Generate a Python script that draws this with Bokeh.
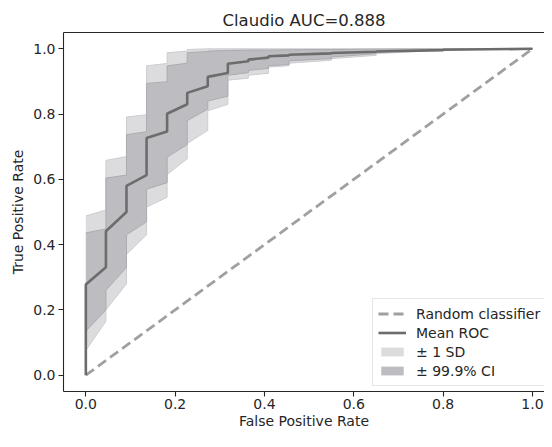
from bokeh.plotting import figure
from bokeh.models import (Range1d, FixedTicker, LinearAxis, Legend, LegendItem)
from bokeh.embed import file_html
from bokeh.resources import INLINE

# ---------------- data ----------------
title_text = "Claudio AUC=0.888"
x_label = "False Positive Rate"
y_label = "True Positive Rate"
tick_values = [0.0, 0.2, 0.4, 0.6, 0.8, 1.0]
tick_labels = ["0.0", "0.2", "0.4", "0.6", "0.8", "1.0"]

# FPR intervals (start / end of each step segment)
interval_start = [0.0, 0.045, 0.091, 0.136, 0.182, 0.227, 0.273, 0.318, 0.364, 0.409, 0.455, 0.55, 0.65, 0.80]
interval_end   = [0.045, 0.091, 0.136, 0.182, 0.227, 0.273, 0.318, 0.364, 0.409, 0.455, 0.55, 0.65, 0.80, 1.0]

# mean ROC (TPR at start / end of each interval)
mean_origin_x = 0.0
mean_origin_y = 0.0
mean_start = [0.278, 0.441, 0.580, 0.727, 0.801, 0.865, 0.914, 0.954, 0.967, 0.977, 0.982, 0.987, 0.992, 0.997]
mean_end   = [0.331, 0.500, 0.613, 0.747, 0.830, 0.885, 0.926, 0.962, 0.973, 0.980, 0.986, 0.991, 0.996, 1.000]

# +- 1 SD band
sd_up_start = [0.488, 0.658, 0.791, 0.948, 0.988, 0.998, 1.0, 1.0, 1.0, 1.0, 1.0, 1.0, 1.0, 1.0]
sd_up_end   = [0.506, 0.670, 0.798, 0.955, 0.993, 1.000, 1.0, 1.0, 1.0, 1.0, 1.0, 1.0, 1.0, 1.0]
sd_lo_start = [0.076, 0.200, 0.370, 0.515, 0.615, 0.710, 0.810, 0.904, 0.919, 0.944, 0.956, 0.970, 0.985, 0.998]
sd_lo_end   = [0.165, 0.280, 0.430, 0.545, 0.663, 0.750, 0.830, 0.910, 0.925, 0.948, 0.965, 0.980, 0.996, 1.000]

# +- 99.9% CI band
ci_up_start = [0.436, 0.604, 0.737, 0.894, 0.948, 0.988, 0.993, 0.995, 0.996, 0.996, 0.997, 0.998, 0.999, 1.0]
ci_up_end   = [0.448, 0.613, 0.746, 0.899, 0.956, 0.992, 0.995, 0.996, 0.996, 0.997, 0.998, 0.999, 1.000, 1.0]
ci_lo_start = [0.135, 0.260, 0.430, 0.570, 0.668, 0.780, 0.840, 0.919, 0.934, 0.948, 0.963, 0.975, 0.990, 0.999]
ci_lo_end   = [0.200, 0.330, 0.470, 0.590, 0.707, 0.815, 0.855, 0.927, 0.940, 0.952, 0.970, 0.985, 0.998, 1.000]

random_x = [0.0, 1.0]
random_y = [0.0, 1.0]

legend_labels = ["Random classifier", "Mean ROC", "\u00b1 1 SD", "\u00b1 99.9% CI"]


def build(starts, ends):
    xs, ys = [], []
    for a, b, v0, v1 in zip(interval_start, interval_end, starts, ends):
        xs += [a, b]
        ys += [v0, v1]
    return xs, ys


band_x, sd_up = build(sd_up_start, sd_up_end)
_, sd_lo = build(sd_lo_start, sd_lo_end)
_, ci_up = build(ci_up_start, ci_up_end)
_, ci_lo = build(ci_lo_start, ci_lo_end)
mx, my = build(mean_start, mean_end)
mean_x = [mean_origin_x] + mx
mean_y = [mean_origin_y] + my

# ---------------- styling ----------------
FONT = "DejaVu Sans"
TXT = "#262626"
SD_FILL = "#dcdcdf"
SD_EDGE = "#cdcdd1"
CI_FILL = "#bdbdc1"
CI_EDGE = "#ababb0"

p = figure(width=544, height=431,
           x_range=Range1d(-0.05, 1.027), y_range=Range1d(-0.05, 1.05),
           output_backend="svg", toolbar_location=None, title=title_text,
           min_border_left=63, min_border_right=0, min_border_top=32,
           min_border_bottom=0)
p.outline_line_color = None
p.grid.visible = False
p.background_fill_color = "white"
p.border_fill_color = "white"

p.title.text_font = FONT
p.title.text_font_size = "16.5px"
p.title.text_font_style = "normal"
p.title.text_color = TXT
p.title.align = "center"
p.title.standoff = 6

for ax in (p.xaxis[0], p.yaxis[0]):
    ax.ticker = FixedTicker(ticks=tick_values)
    ax.major_label_overrides = {v: l for v, l in zip(tick_values, tick_labels)}
    ax.axis_line_color = TXT
    ax.axis_line_width = 1.1
    ax.major_tick_line_color = TXT
    ax.major_tick_line_width = 1.1
    ax.major_tick_out = 5
    ax.major_tick_in = 0
    ax.minor_tick_line_color = None
    ax.major_label_text_font = FONT
    ax.major_label_text_font_size = "14px"
    ax.major_label_text_color = TXT
    ax.major_label_standoff = 3
    ax.axis_label_text_font = FONT
    ax.axis_label_text_font_size = "14px"
    ax.axis_label_text_font_style = "normal"
    ax.axis_label_text_color = TXT
    ax.axis_label_standoff = 4

p.xaxis[0].major_label_standoff = 2
p.xaxis[0].axis_label_standoff = 1

p.xaxis.axis_label = x_label
p.yaxis.axis_label = y_label

top = LinearAxis(ticker=FixedTicker(ticks=[]), axis_line_color=TXT,
                 axis_line_width=1.1, major_tick_out=0, major_tick_in=0,
                 minor_tick_out=0, minor_tick_in=0,
                 major_label_text_font_size="0px")
p.add_layout(top, "above")

# bands
sd_band = p.varea(x=band_x, y1=sd_lo, y2=sd_up, fill_color=SD_FILL)
p.line(band_x, sd_up, line_color=SD_EDGE, line_width=1)
p.line(band_x, sd_lo, line_color=SD_EDGE, line_width=1)
ci_band = p.varea(x=band_x, y1=ci_lo, y2=ci_up, fill_color=CI_FILL)
p.line(band_x, ci_up, line_color=CI_EDGE, line_width=1)
p.line(band_x, ci_lo, line_color=CI_EDGE, line_width=1)

rand_line = p.line(random_x, random_y, line_color="#a0a0a0", line_width=2.8,
                   line_dash="10 5")
mean_line = p.line(mean_x, mean_y, line_color="#6c6c6c", line_width=2.6)

legend = Legend(items=[
    LegendItem(label=legend_labels[0], renderers=[rand_line]),
    LegendItem(label=legend_labels[1], renderers=[mean_line]),
    LegendItem(label=legend_labels[2], renderers=[sd_band]),
    LegendItem(label=legend_labels[3], renderers=[ci_band]),
], location=(309, 5))
legend.label_text_font = FONT
legend.label_text_font_size = "14px"
legend.label_text_color = TXT
legend.glyph_width = 28
legend.glyph_height = 11
legend.label_height = 19
legend.label_standoff = 10
legend.spacing = 0
legend.padding = 5
legend.margin = 0
legend.border_line_color = "#cccccc"
legend.border_line_width = 1
legend.background_fill_alpha = 0.8
p.add_layout(legend)

open("out.html", "w").write(file_html(p, INLINE))
